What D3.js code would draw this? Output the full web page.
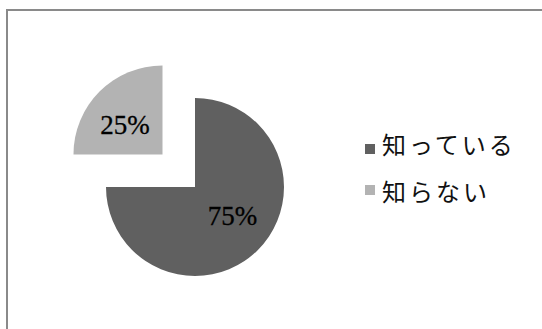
<!DOCTYPE html>
<html>
<head>
<meta charset="utf-8">
<script src="https://cdn.jsdelivr.net/npm/d3@7"></script>
<style>
  html, body { margin: 0; padding: 0; background: #fff; }
  svg { display: block; }
</style>
</head>
<body>
<svg id="chart" width="542" height="329"></svg>
<script>
// Survey answers and their shares (percent)
const categories = ["知っている", "知らない"];
const values = [75, 25];
const colors = ["#606060", "#b3b3b3"];
const labels = ["75%", "25%"];
// slices pulled out from the centre (px)
const explode = [0, 46];

const W = 542, H = 329;
const svg = d3.select("#chart");

// chart frame
svg.append("rect")
  .attr("x", 7).attr("y", 10)
  .attr("width", W + 20).attr("height", H + 20)
  .attr("fill", "none")
  .attr("stroke", "#8a8a8a")
  .attr("stroke-width", 2);

const cx = 195, cy = 187, r = 89;

const pie = d3.pie().sort(null).value(d => d);
const arcs = pie(values);
const arc = d3.arc().innerRadius(0).outerRadius(r);

const g = svg.append("g").attr("transform", `translate(${cx},${cy})`);

const slice = g.selectAll("g.slice").data(arcs).join("g")
  .attr("class", "slice")
  .attr("transform", (d, i) => {
    const a = (d.startAngle + d.endAngle) / 2;
    return `translate(${Math.sin(a) * explode[i]},${-Math.cos(a) * explode[i]})`;
  });

slice.append("path")
  .attr("d", arc)
  .attr("fill", (d, i) => colors[i]);

// percentage labels inside each slice
slice.append("text")
  .attr("x", d => Math.sin((d.startAngle + d.endAngle) / 2) * 53)
  .attr("y", d => -Math.cos((d.startAngle + d.endAngle) / 2) * 41)
  .attr("text-anchor", "middle")
  .attr("dominant-baseline", "central")
  .attr("font-family", "'Liberation Serif', 'DejaVu Serif', serif")
  .attr("font-size", 27)
  .attr("fill", "#000")
  .attr("stroke", "#000")
  .attr("stroke-width", 0.3)
  .text((d, i) => labels[i]);

// legend
const legendRows = [
  { sq: 144, ty: 143 },
  { sq: 185, ty: 190 }
];
const legend = svg.append("g");
categories.forEach((c, i) => {
  legend.append("rect")
    .attr("x", 365).attr("y", legendRows[i].sq)
    .attr("width", 10).attr("height", 10)
    .attr("fill", colors[i]);
  legend.append("text")
    .attr("x", 382).attr("y", legendRows[i].ty)
    .attr("dominant-baseline", "central")
    .attr("font-family", "'Noto Sans CJK JP', sans-serif")
    .attr("font-size", 24)
    .attr("letter-spacing", 3)
    .attr("fill", "#111")
    .text(c);
});
</script>
</body>
</html>
